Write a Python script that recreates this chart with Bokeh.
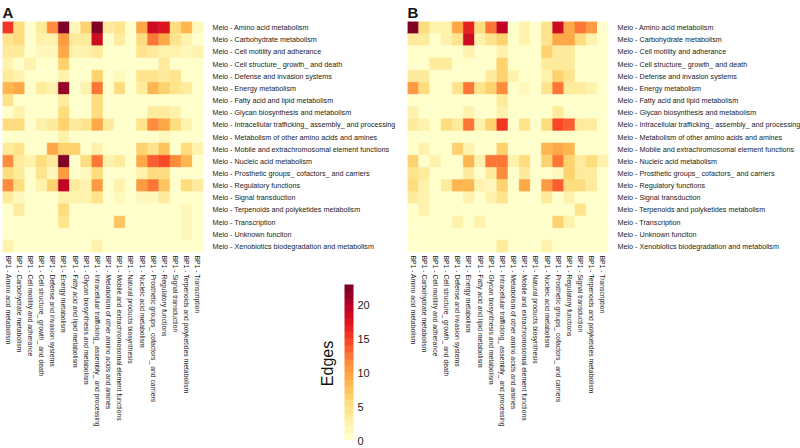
import math
from bokeh.plotting import figure
from bokeh.models import (FactorRange, LinearColorMapper, ColorBar, FixedTicker,
                          Title, ColumnDataSource)
from bokeh.layouts import row, column
from bokeh.transform import transform
from bokeh.embed import file_html
from bokeh.resources import INLINE

meio_categories = [
    "Meio - Amino acid metabolism",
    "Meio - Carbohydrate metabolism",
    "Meio - Cell motility and adherance",
    "Meio - Cell structure_ growth_ and death",
    "Meio - Defense and invasion systems",
    "Meio - Energy metabolism",
    "Meio - Fatty acid and lipid metabolism",
    "Meio - Glycan biosynthesis and metabolism",
    "Meio - Intracellular trafficking_ assembly_ and processing",
    "Meio - Metabolism of other amino acids and amines",
    "Meio - Mobile and extrachromosomal element functions",
    "Meio - Nucleic acid metabolism",
    "Meio - Prosthetic groups_ cofactors_ and carriers",
    "Meio - Regulatory functions",
    "Meio - Signal transduction",
    "Meio - Terpenoids and polyketides metabolism",
    "Meio - Transcription",
    "Meio - Unknown funciton",
    "Meio - Xenobiotics biodegradation and metabolism",
]

bp1_categories = [
    "BP1 - Amino acid metabolism",
    "BP1 - Carbohydrate metabolism",
    "BP1 - Cell motility and adherance",
    "BP1 - Cell structure_ growth_ and death",
    "BP1 - Defense and invasion systems",
    "BP1 - Energy metabolism",
    "BP1 - Fatty acid and lipid metabolism",
    "BP1 - Glycan biosynthesis and metabolism",
    "BP1 - Intracellular trafficking_ assembly_ and processing",
    "BP1 - Metabolism of other amino acids and amines",
    "BP1 - Mobile and extrachromosomal element functions",
    "BP1 - Natural products biosynthesis",
    "BP1 - Nucleic acid metabolism",
    "BP1 - Prosthetic groups_ cofactors_ and carriers",
    "BP1 - Regulatory functions",
    "BP1 - Signal transduction",
    "BP1 - Terpenoids and polyketides metabolism",
    "BP1 - Transcription",
]

# Edges, panel A (rows = Meio categories, columns = BP1 categories)
edges_a = [
    [15, 5, 0, 3, 11, 22, 1, 6, 23, 3, 4, 0, 9, 18, 17, 5, 8, 1],
    [4, 5, 0, 2, 2, 10, 3, 3, 18, 0, 3, 0, 5, 12, 9, 4, 2, 0],
    [3, 3, 0, 1, 1, 9, 2, 2, 3, 0, 0, 0, 4, 3, 2, 2, 1, 2],
    [2, 0, 2, 0, 0, 6, 0, 0, 0, 0, 0, 0, 0, 0, 3, 0, 0, 0],
    [3, 2, 0, 0, 0, 2, 0, 0, 6, 0, 1, 0, 4, 4, 3, 4, 0, 0],
    [8, 9, 0, 3, 2, 21, 0, 2, 12, 0, 5, 0, 3, 8, 6, 4, 3, 0],
    [4, 0, 0, 0, 0, 3, 0, 0, 5, 0, 0, 0, 0, 0, 0, 0, 0, 0],
    [0, 2, 0, 0, 0, 5, 0, 0, 5, 0, 0, 0, 0, 3, 3, 2, 0, 0],
    [5, 5, 0, 2, 3, 6, 3, 4, 9, 3, 0, 0, 4, 11, 9, 5, 2, 0],
    [0, 0, 0, 0, 0, 2, 0, 0, 0, 0, 0, 0, 0, 0, 1, 0, 0, 0],
    [3, 4, 0, 0, 9, 6, 6, 0, 2, 0, 0, 0, 6, 4, 7, 0, 5, 2],
    [11, 3, 2, 5, 3, 23, 0, 5, 12, 2, 3, 0, 9, 13, 14, 11, 8, 0],
    [5, 3, 0, 4, 1, 10, 0, 1, 5, 0, 0, 0, 2, 5, 5, 0, 0, 0],
    [11, 5, 0, 2, 6, 19, 3, 2, 10, 0, 2, 0, 10, 12, 7, 0, 5, 3],
    [3, 1, 0, 0, 0, 2, 2, 2, 4, 0, 1, 0, 1, 1, 3, 0, 0, 0],
    [0, 3, 0, 0, 0, 5, 0, 0, 0, 0, 0, 0, 0, 0, 0, 0, 1, 0],
    [0, 0, 0, 0, 0, 4, 0, 0, 0, 0, 7, 0, 0, 0, 0, 0, 1, 0],
    [0, 0, 0, 0, 0, 0, 0, 0, 0, 0, 0, 0, 0, 0, 0, 0, 1, 0],
    [2, 0, 0, 0, 0, 0, 0, 0, 2, 0, 0, 0, 0, 0, 0, 0, 0, 0],
]

# Edges, panel B
edges_b = [
    [23, 5, 2, 2, 9, 16, 5, 12, 19, 0, 2, 0, 4, 18, 9, 12, 10, 0],
    [3, 3, 0, 2, 4, 18, 2, 4, 6, 0, 2, 0, 4, 9, 9, 5, 2, 0],
    [0, 0, 0, 0, 0, 2, 0, 0, 2, 0, 0, 0, 6, 3, 3, 0, 0, 0],
    [0, 0, 3, 3, 0, 0, 0, 0, 6, 0, 0, 0, 3, 3, 3, 0, 0, 0],
    [3, 3, 0, 0, 0, 0, 0, 3, 6, 2, 0, 0, 2, 6, 4, 0, 0, 0],
    [10, 5, 0, 0, 4, 12, 4, 6, 11, 0, 1, 0, 4, 12, 3, 3, 2, 0],
    [0, 0, 0, 0, 0, 0, 0, 0, 3, 0, 0, 0, 0, 0, 0, 0, 0, 0],
    [2, 0, 0, 0, 0, 2, 0, 0, 2, 0, 0, 0, 0, 3, 0, 0, 0, 0],
    [3, 2, 0, 5, 3, 12, 2, 6, 15, 0, 4, 0, 5, 14, 13, 3, 3, 0],
    [0, 0, 0, 0, 0, 0, 0, 0, 0, 0, 0, 0, 0, 0, 0, 0, 0, 0],
    [0, 2, 0, 0, 6, 2, 0, 0, 6, 0, 0, 0, 8, 9, 8, 0, 0, 0],
    [6, 0, 2, 0, 0, 8, 2, 12, 12, 2, 5, 0, 6, 12, 6, 3, 5, 2],
    [4, 3, 0, 0, 0, 3, 0, 3, 11, 0, 3, 0, 0, 1, 6, 3, 3, 0],
    [5, 2, 0, 3, 8, 8, 2, 1, 6, 0, 9, 0, 10, 13, 5, 5, 3, 0],
    [3, 2, 0, 0, 0, 2, 0, 2, 4, 0, 0, 0, 3, 0, 2, 0, 0, 0],
    [0, 2, 0, 0, 0, 0, 0, 0, 0, 0, 0, 0, 0, 0, 0, 4, 0, 0],
    [0, 0, 0, 0, 2, 0, 2, 0, 0, 0, 0, 0, 0, 6, 2, 0, 0, 0],
    [0, 0, 0, 0, 0, 0, 0, 0, 0, 0, 0, 0, 0, 0, 0, 0, 0, 0],
    [0, 0, 0, 0, 0, 0, 0, 0, 3, 0, 0, 0, 2, 0, 0, 0, 0, 0],
]

colorbar_ticks = [0, 5, 10, 15, 20]
edges_max = 23

# ---- colour palette (YlOrRd, light to dark, stepped) ----
base = ["#FFFFCC", "#FFEDA0", "#FED976", "#FEB24C", "#FD8D3C",
        "#FC4E2A", "#E31A1C", "#BD0026", "#800026"]


def hex2rgb(h):
    return tuple(int(h[i:i + 2], 16) for i in (1, 3, 5))


def make_palette(n):
    out = []
    for k in range(n):
        t = k / (n - 1) * (len(base) - 1)
        i = min(int(t), len(base) - 2)
        f = t - i
        a, b = hex2rgb(base[i]), hex2rgb(base[i + 1])
        c = tuple(round(a[j] + (b[j] - a[j]) * f) for j in range(3))
        out.append("#%02x%02x%02x" % c)
    return out


palette = make_palette(edges_max)
mapper = LinearColorMapper(palette=palette, low=0, high=edges_max)

FONT = "Liberation Sans"
FRAME_W = 201
FRAME_H = 231


def make_panel(title_text, values, left_border, right_border):
    xs, ys, vs = [], [], []
    for r, meio in enumerate(meio_categories):
        for c, bp in enumerate(bp1_categories):
            xs.append(bp)
            ys.append(meio)
            vs.append(values[r][c])
    src = ColumnDataSource(dict(bp1=xs, meio=ys, value=vs))
    p = figure(frame_width=FRAME_W, frame_height=FRAME_H,
               x_range=FactorRange(*bp1_categories),
               y_range=FactorRange(*meio_categories[::-1]),
               y_axis_location="right", title=title_text,
               output_backend="svg", toolbar_location=None,
               min_border_left=left_border, min_border_right=right_border,
               min_border_top=21, min_border_bottom=196)
    p.title.text_font = FONT
    p.title.text_font_size = "15px"
    p.title.text_font_style = "bold"
    p.title.text_color = "#111111"
    p.title.standoff = 2
    p.title.offset = 0
    p.rect(x="bp1", y="meio", width=1, height=1, source=src,
           fill_color=transform("value", mapper),
           line_color=transform("value", mapper), line_width=0.5)
    p.grid.visible = False
    p.outline_line_color = None
    for ax in (p.xaxis[0], p.yaxis[0]):
        ax.axis_line_color = None
        ax.major_tick_line_color = None
        ax.minor_tick_line_color = None
        ax.major_label_text_font = FONT
        ax.major_label_text_color = "#222222"
    p.yaxis.major_label_text_font_size = "7.2px"
    p.yaxis.major_label_standoff = 3
    p.xaxis.major_label_text_font_size = "6.8px"
    p.xaxis.major_label_orientation = -math.pi / 2
    p.xaxis.major_label_standoff = -3
    return p


pA = make_panel("A", edges_a, 2, 200)
pB = make_panel("B", edges_b, 4, 192)

# ---- colour bar with its rotated "Edges" title, overlaid below panel A's labels ----
CB_W, CB_H = 70, 170
pC = figure(width=CB_W, height=CB_H, output_backend="svg", toolbar_location=None,
            x_axis_type=None, y_axis_type=None, min_border=0,
            min_border_left=0, min_border_right=0, min_border_top=0, min_border_bottom=0)
pC.outline_line_color = None
pC.grid.visible = False
pC.background_fill_alpha = 0
pC.border_fill_alpha = 0
pC.add_layout(Title(text="Edges", text_font=FONT, text_font_size="16px",
                    text_font_style="normal", text_color="#111111",
                    align="center", standoff=0, offset=0), "left")
cbar = ColorBar(color_mapper=mapper, ticker=FixedTicker(ticks=colorbar_ticks),
                width=9, height=156, location=(9, 8), padding=0, margin=0,
                major_label_text_font=FONT, major_label_text_font_size="11px",
                major_label_text_color="#222222",
                major_tick_line_color=None, minor_tick_line_color=None,
                bar_line_color=None, border_line_color=None,
                background_fill_alpha=0, label_standoff=4)
pC.add_layout(cbar, "center")
pC.margin = (-CB_H, 0, 0, 316)

layout = column(row(pA, pB), pC)
open("out.html", "w").write(file_html(layout, INLINE))
